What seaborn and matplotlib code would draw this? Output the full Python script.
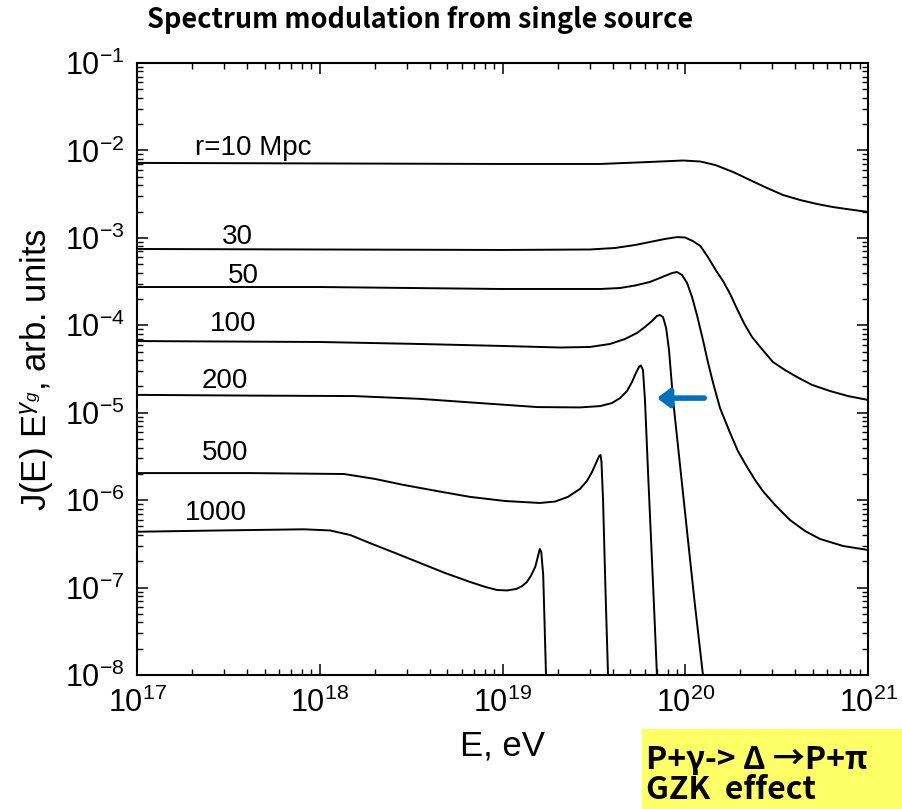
import numpy as np
import pandas as pd
import matplotlib
matplotlib.use("Agg")
import matplotlib.pyplot as plt
import seaborn as sns
from matplotlib.patches import Rectangle

# ---------------- data ----------------
E_r10 = [1e17, 1e18, 1e19, 3.42e19, 6.41e19, 9.72e19, 1.21e20, 1.46e20, 1.83e20, 2.26e20,
         2.80e20, 3.43e20, 4.25e20, 5.26e20, 6.44e20, 7.98e20, 1e21]
J_r10 = [7.2e-3, 7.1e-3, 7.0e-3, 7.0e-3, 7.38e-3, 7.67e-3, 7.47e-3, 6.81e-3, 5.66e-3, 4.59e-3,
         3.72e-3, 3.09e-3, 2.71e-3, 2.44e-3, 2.25e-3, 2.11e-3, 1.98e-3]

E_r30 = [1e17, 1e18, 1e19, 3.01e19, 4.13e19, 5.31e19, 6.41e19, 7.74e19, 9.01e19, 9.97e19,
         1.10e20, 1.21e20, 1.33e20, 1.49e20, 1.61e20, 1.76e20, 1.92e20, 2.12e20, 2.32e20,
         2.57e20, 2.80e20, 3.02e20, 3.51e20, 4.09e20, 4.94e20, 6.20e20, 7.78e20, 1e21]
J_r30 = [7.46e-4, 7.36e-4, 7.27e-4, 7.36e-4, 7.66e-4, 8.28e-4, 8.97e-4, 9.71e-4, 1.02e-3, 1.01e-3,
         9.2e-4, 8.07e-4, 6.04e-4, 4.07e-4, 3.21e-4, 2.28e-4, 1.54e-4, 1.01e-4, 7.34e-5,
         5.65e-5, 4.57e-5, 3.80e-5, 3.08e-5, 2.56e-5, 2.08e-5, 1.77e-5, 1.55e-5, 1.40e-5]

E_r50 = [1e17, 1e18, 1e19, 3.42e19, 4.40e19, 5.31e19, 6.41e19, 7.47e19, 8.47e19, 9.01e19,
         9.60e19, 1.023e20, 1.089e20, 1.159e20, 1.25e20, 1.33e20, 1.42e20, 1.55e20, 1.76e20,
         1.94e20, 2.18e20, 2.41e20, 2.66e20, 3.10e20, 3.74e20, 4.52e20, 5.46e20, 7.30e20, 1e21]
J_r50 = [2.74e-4, 2.74e-4, 2.60e-4, 2.60e-4, 2.67e-4, 2.85e-4, 3.13e-4, 3.56e-4, 3.96e-4, 4.07e-4,
         3.76e-4, 3.05e-4, 2.11e-4, 1.31e-4, 6.79e-5, 3.80e-5, 2.19e-5, 1.13e-5, 5.86e-6,
         3.65e-6, 2.39e-6, 1.70e-6, 1.27e-6, 8.81e-7, 5.93e-7, 4.44e-7, 3.60e-7, 2.99e-7, 2.69e-7]

E_r100 = [1e17, 1e18, 3.54e18, 1e19, 2.07e19, 3.01e19, 3.87e19, 4.68e19, 5.44e19, 6.02e19,
          6.58e19, 7.01e19, 7.28e19, 7.56e19, 7.86e19, 8.15e19, 8.58e19, 9.36e19, 1.035e20,
          1.13e20, 1.25e20, 1.40e20]
J_r100 = [6.6e-5, 6.44e-5, 6.11e-5, 5.80e-5, 5.57e-5, 5.65e-5, 6.11e-5, 6.97e-5, 8.16e-5, 9.56e-5,
          1.12e-4, 1.28e-4, 1.31e-4, 1.24e-4, 9.31e-5, 5.21e-5, 1.40e-5, 2.52e-6, 3.50e-7,
          6.32e-8, 1e-8, 1.07e-9]

E_r200 = [1e17, 4.15e17, 1.54e18, 3.54e18, 7.5e18, 1.55e19, 2.65e19, 3.42e19, 3.97e19, 4.40e19,
          4.80e19, 5.11e19, 5.37e19, 5.58e19, 5.72e19, 5.87e19, 6.02e19, 6.25e19, 6.50e19,
          6.75e19, 7.00e19, 7.36e19]
J_r200 = [1.60e-5, 1.57e-5, 1.55e-5, 1.44e-5, 1.29e-5, 1.16e-5, 1.15e-5, 1.19e-5, 1.29e-5, 1.47e-5,
          1.77e-5, 2.24e-5, 2.84e-5, 3.33e-5, 3.47e-5, 3.08e-5, 1.40e-5, 2.21e-6, 3.50e-7,
          6.0e-8, 1e-8, 1.07e-9]

E_r500 = [1e17, 4.15e17, 1.36e18, 2.0e18, 2.89e18, 4.39e18, 6.64e18, 1.03e19, 1.60e19, 1.94e19,
          2.28e19, 2.65e19, 2.90e19, 3.09e19, 3.25e19, 3.38e19, 3.44e19, 3.48e19, 3.55e19,
          3.66e19, 3.78e19, 3.87e19]
J_r500 = [2.04e-6, 2.04e-6, 1.99e-6, 1.75e-6, 1.49e-6, 1.27e-6, 1.09e-6, 9.78e-7, 9.28e-7, 9.64e-7,
          1.09e-6, 1.34e-6, 1.66e-6, 2.10e-6, 2.66e-6, 3.20e-6, 3.28e-6, 2.73e-6, 1.00e-6,
          9.38e-8, 1e-8, 1.07e-9]

E_r1000 = [1e17, 2.84e17, 8.2e17, 1.14e18, 1.47e18, 1.88e18, 2.58e18, 3.54e18, 4.84e18, 6.64e18,
           8.02e18, 9.33e18, 1.06e19, 1.19e19, 1.28e19, 1.36e19, 1.43e19, 1.51e19, 1.56e19,
           1.60e19, 1.63e19, 1.67e19, 1.70e19, 1.73e19, 1.76e19]
J_r1000 = [4.35e-7, 4.50e-7, 4.64e-7, 4.50e-7, 3.99e-7, 3.23e-7, 2.49e-7, 1.91e-7, 1.47e-7, 1.16e-7,
           1.02e-7, 9.38e-8, 9.27e-8, 9.64e-8, 1.04e-7, 1.16e-7, 1.36e-7, 1.72e-7, 2.24e-7,
           2.76e-7, 2.55e-7, 1.39e-7, 3.73e-8, 1e-8, 1.07e-9]

curve_labels = ["r=10 Mpc", "30", "50", "100", "200", "500", "1000"]
label_E = [2.08e17, 2.92e17, 3.15e17, 2.51e17, 2.27e17, 2.27e17, 1.83e17]
label_J = [8.87e-3, 8.5e-4, 3.05e-4, 8.6e-5, 1.92e-5, 2.88e-6, 5.93e-7]

curves = [(E_r10, J_r10), (E_r30, J_r30), (E_r50, J_r50), (E_r100, J_r100),
          (E_r200, J_r200), (E_r500, J_r500), (E_r1000, J_r1000)]

# ---------------- style ----------------
sns.set_theme(style="ticks")
plt.rcParams["font.family"] = ["Liberation Sans", "DejaVu Sans"]
plt.rcParams["mathtext.fontset"] = "custom"
plt.rcParams["mathtext.rm"] = "Liberation Sans"
plt.rcParams["mathtext.it"] = "Liberation Sans:italic"
plt.rcParams["mathtext.bf"] = "Liberation Sans:bold"
plt.rcParams["text.color"] = "black"
plt.rcParams["axes.labelcolor"] = "black"
plt.rcParams["xtick.color"] = "black"
plt.rcParams["ytick.color"] = "black"

fig = plt.figure(figsize=(9.02, 8.09), dpi=100)
ax = fig.add_axes([137 / 902, 1 - 675 / 809, 731 / 902, 612 / 809])

frames = []
for lab, (E, J) in zip(curve_labels, curves):
    frames.append(pd.DataFrame({"E": E, "J": J, "r": lab}))
df = pd.concat(frames, ignore_index=True)

for lab in curve_labels:
    sub = df[df["r"] == lab]
    sns.lineplot(data=sub, x="E", y="J", ax=ax, color="black", linewidth=1.4,
                 sort=False, estimator=None, legend=False)

ax.set_xscale("log")
ax.set_yscale("log")
ax.set_xlim(1e17, 1e21)
ax.set_ylim(1e-8, 1e-1)

for lab, xe, yj in zip(curve_labels, label_E, label_J):
    ax.text(xe, yj, lab, fontsize=20, color="black", ha="left", va="baseline")

ax.set_xlabel("E, eV", fontsize=25, labelpad=8)
ax.set_ylabel(r"J(E) E$^{\gamma_g}$, arb. units", fontsize=25, labelpad=6)

ax.tick_params(which="both", direction="in", top=True, right=True, colors="black",
               labelcolor="black")
ax.tick_params(which="major", length=8, width=1.1, labelsize=22, pad=9)
ax.tick_params(which="minor", length=4.5, width=1.0)
for s in ax.spines.values():
    s.set_linewidth(1.5)
    s.set_color("black")

# blue arrow
ax.annotate("", xy=(7.0e19, 1.47e-5), xytext=(1.27e20, 1.47e-5),
            arrowprops=dict(arrowstyle="-|>,head_length=0.6,head_width=0.45",
                            color="#0070C0", lw=4, shrinkA=0, shrinkB=0))

# title
fig.text(0.466, 0.975, "Spectrum modulation from single source", ha="center", va="center",
         fontsize=19.5, fontweight="bold", family=["Noto Sans CJK JP", "DejaVu Sans"])

# yellow note box
fig.patches.append(Rectangle((642 / 902, 0), 1 - 642 / 902 + 0.01, 80 / 809,
                             transform=fig.transFigure, facecolor="#FFFF66",
                             edgecolor="none", zorder=0))
fig.text(646 / 902, 1 - 760 / 809, "P+γ-> Δ →P+π", ha="left", va="center",
         fontsize=23, fontweight="bold", family=["Noto Sans CJK JP", "DejaVu Sans"])
fig.text(646 / 902, 1 - 790 / 809, "GZK  effect", ha="left", va="center",
         fontsize=23, fontweight="bold", family=["Noto Sans CJK JP", "DejaVu Sans"])

fig.savefig("out.png", dpi=100)
